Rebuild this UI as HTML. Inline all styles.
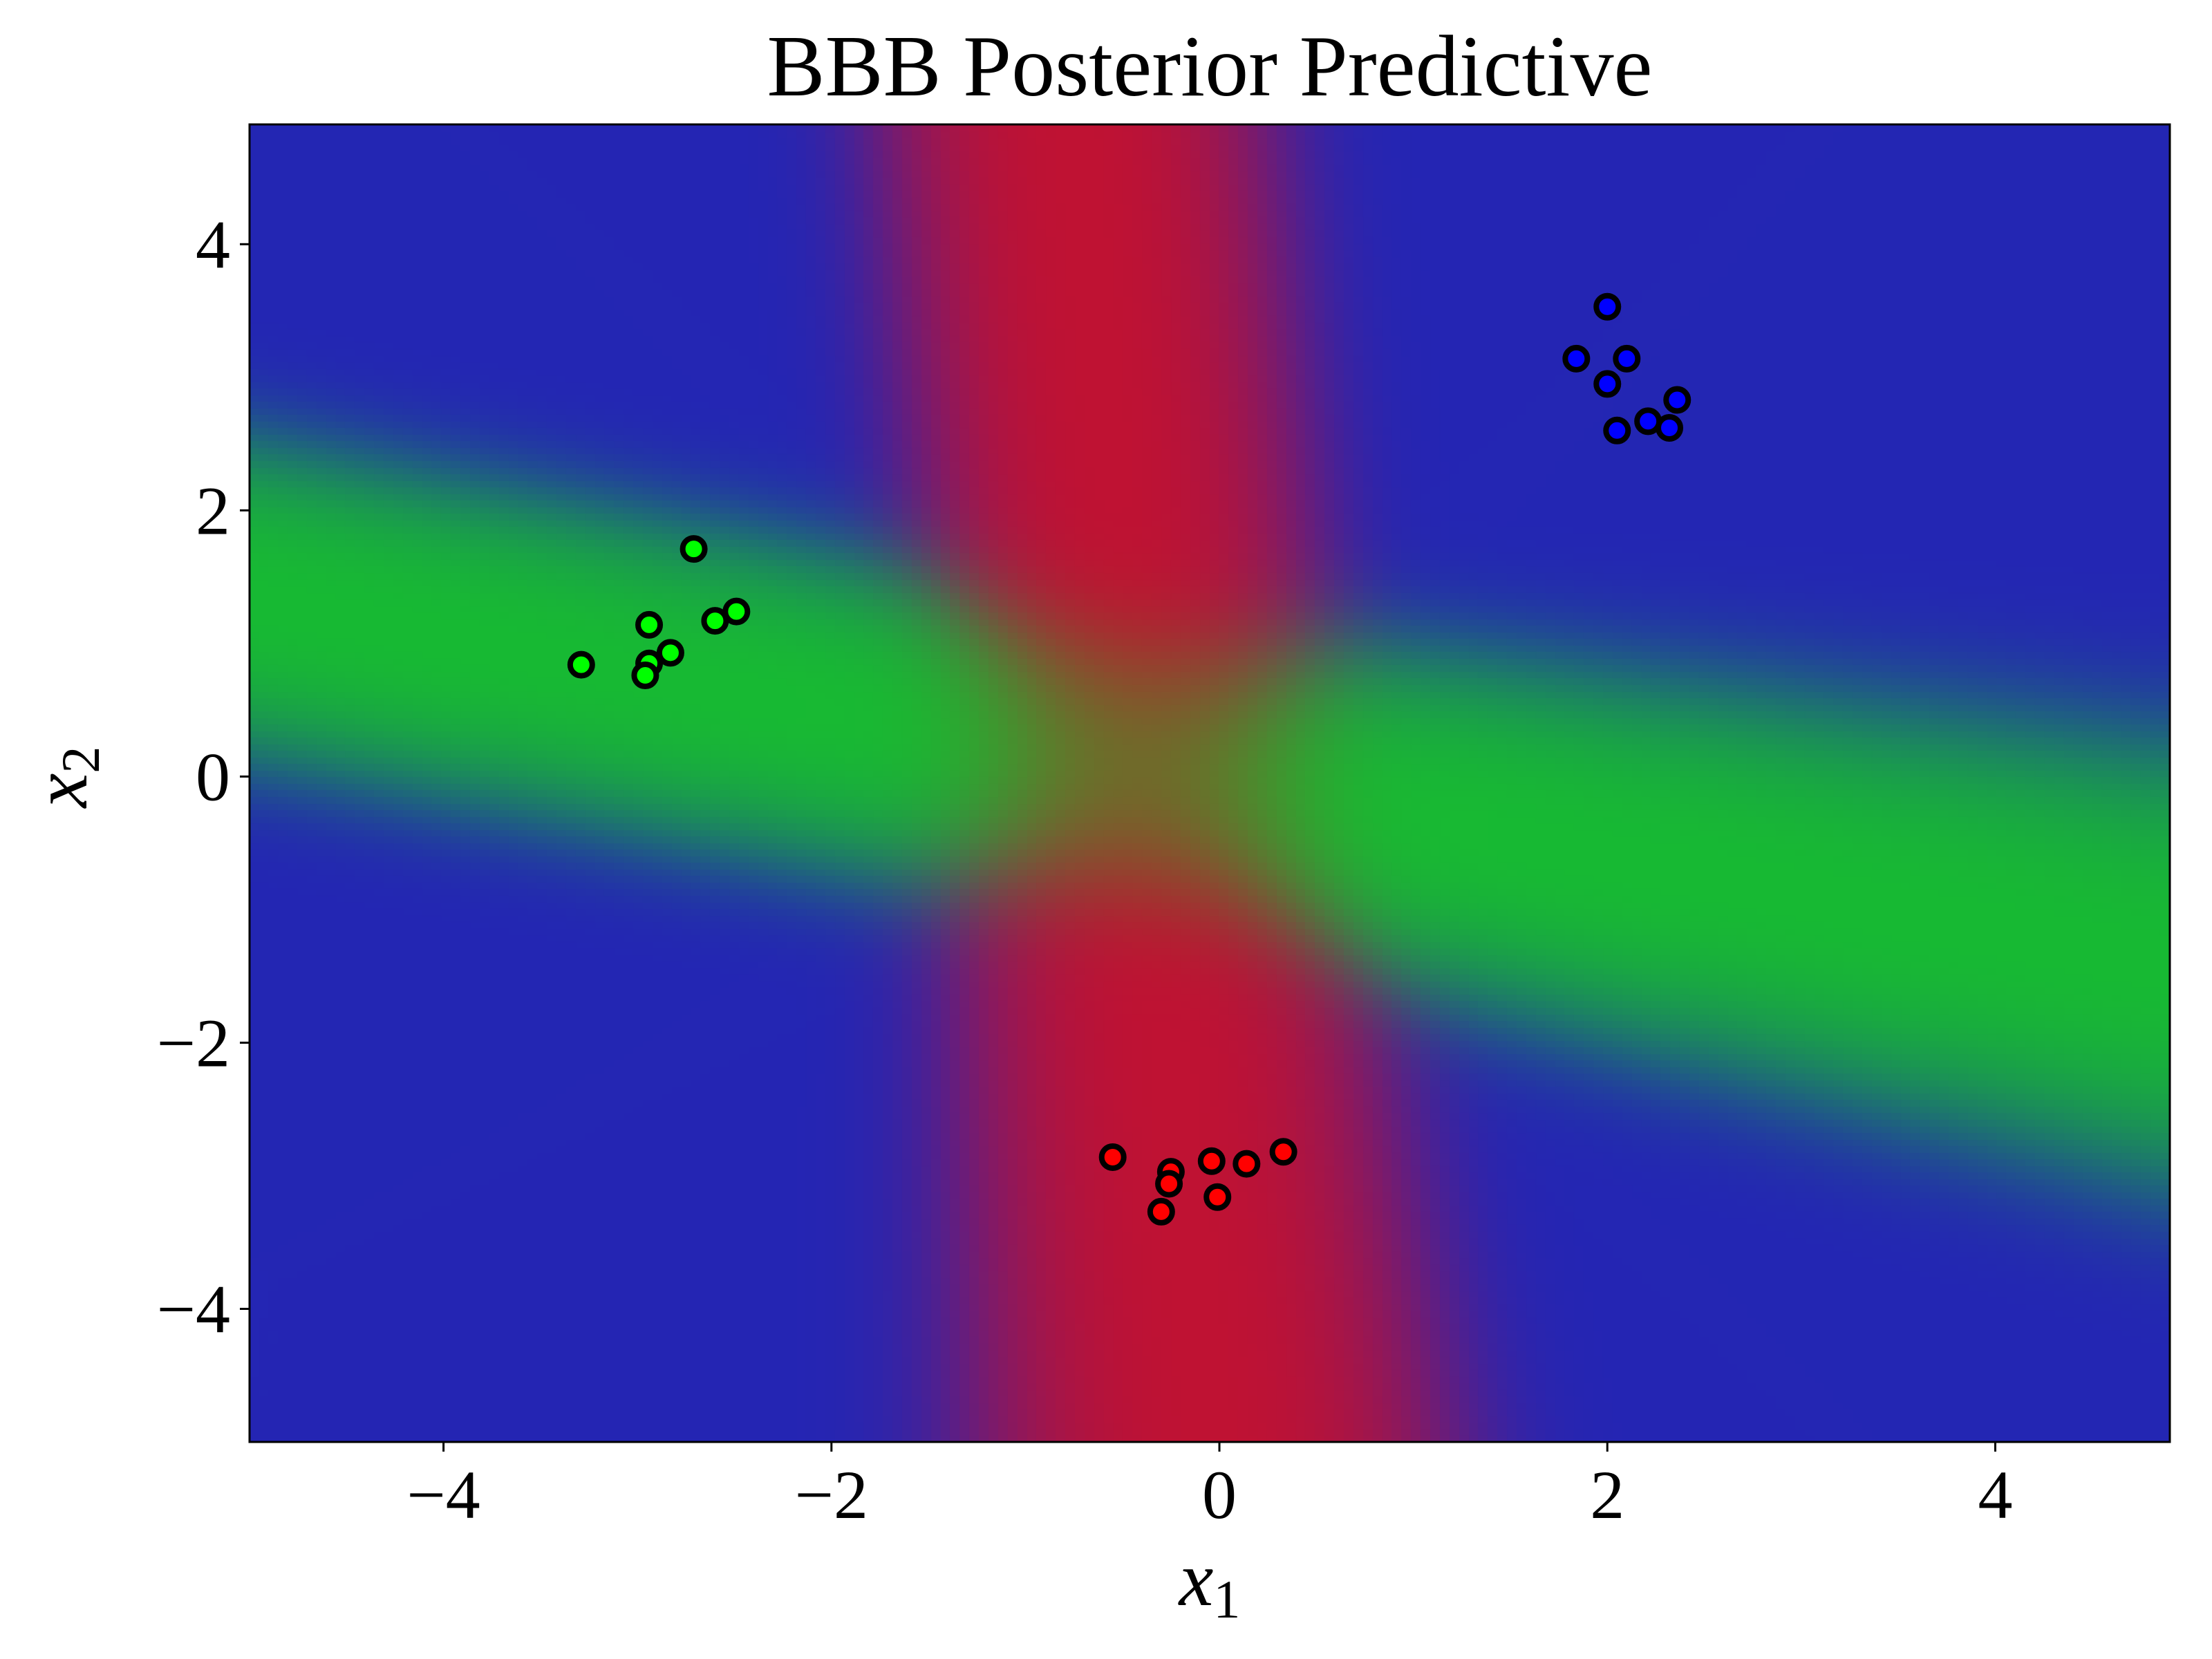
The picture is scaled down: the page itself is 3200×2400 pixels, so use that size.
<!DOCTYPE html>
<html><head><meta charset="utf-8">
<style>
html,body{margin:0;padding:0;background:#fff;}
#wrap{position:relative;width:3200px;height:2400px;overflow:hidden;background:#fff;}
#bg{position:absolute;left:361px;top:180px;width:2778px;height:1906px;}
svg{position:absolute;left:0;top:0;}
text{font-family:"Liberation Serif","DejaVu Serif",serif;fill:#000;}
</style></head>
<body>
<div id="wrap">
<canvas id="bg" width="2778" height="1906"></canvas>
<svg id="svg" width="3200" height="2400"></svg>
</div>
<script>
const xTicks=[-4,-2,0,2,4];
const yTicks=[-4,-2,0,2,4];
const xDomain=[-5,4.9];
const yDomain=[-5,4.9];
const greenX=[-3.29,-2.94,-2.71,-2.83,-2.94,-2.96,-2.60,-2.49];
const greenY=[0.84,1.14,1.71,0.93,0.85,0.76,1.17,1.24];
const blueX=[2.00,1.84,2.10,2.00,2.36,2.21,2.32,2.05];
const blueY=[3.53,3.14,3.14,2.95,2.83,2.67,2.62,2.60];
const redX=[-0.55,-0.25,-0.26,-0.04,0.14,0.33,-0.30,-0.01];
const redY=[-2.86,-2.97,-3.06,-2.89,-2.91,-2.82,-3.27,-3.16];

const L=361,R=3139,T=180,B=2086;
const sx=v=>L+(v-xDomain[0])/(xDomain[1]-xDomain[0])*(R-L);
const sy=v=>B-(v-yDomain[0])/(yDomain[1]-yDomain[0])*(B-T);

const cv=document.getElementById('bg'),ctx=cv.getContext('2d');
const N=200;
const cw=(R-L)/N,ch=(B-T)/N;
for(let i=0;i<N;i++){for(let j=0;j<N;j++){
  const x=xDomain[0]+(i+0.5)*(xDomain[1]-xDomain[0])/N;
  const y=yDomain[0]+(j+0.5)*(yDomain[1]-yDomain[0])/N;
  const cr=-0.4-0.07*y;
  const dx=(x-cr)/(0.65+0.03*Math.max(0,-y));
  const gy=-0.05-0.275*x;
  const dy=(y-gy)/(0.8+0.06*Math.max(0,x));
  const wR=Math.exp(-dx*dx);
  const wG=Math.exp(-dy*dy);
  const wB=0.15;
  const t=wR+wG+wB;
  const pr=wR/t,pg=wG/t,pb=wB/t;
  const r=pr*215+pg*22+pb*36, g=pr*15+pg*208+pb*38, b=pr*32+pg*32+pb*180;
  ctx.fillStyle=`rgb(${r|0},${g|0},${b|0})`;
  ctx.fillRect(Math.floor(i*cw),Math.floor((N-1-j)*ch),Math.ceil(cw)+1,Math.ceil(ch)+1);
}}

const svg=document.getElementById('svg');
const NS='http://www.w3.org/2000/svg';
function mk(tag,attrs,parent){const e=document.createElementNS(NS,tag);for(const k in attrs)e.setAttribute(k,attrs[k]);(parent||svg).appendChild(e);return e;}

function pts(xs,ys,fill,name){
  for(let i=0;i<xs.length;i++){
    const c=mk('circle',{cx:sx(xs[i]),cy:sy(ys[i]),r:16,fill:fill,stroke:'#000','stroke-width':8});
    
    
  }
}
pts(greenX,greenY,'#00ff00','green-point');
pts(blueX,blueY,'#0000ff','blue-point');
pts(redX,redY,'#ff0000','red-point');

const frame=mk('rect',{x:L,y:T,width:R-L,height:B-T,fill:'none',stroke:'#000','stroke-width':3});



xTicks.forEach(v=>{
  const tk=mk('line',{x1:sx(v),x2:sx(v),y1:B,y2:B+14,stroke:'#000','stroke-width':3});
  
  
  const t=mk('text',{x:sx(v),y:B+110,'text-anchor':'middle','font-size':100});
  t.textContent=(v<0?'\u2212':'')+Math.abs(v);
  
  
});
yTicks.forEach(v=>{
  const tk=mk('line',{x1:L-14,x2:L,y1:sy(v),y2:sy(v),stroke:'#000','stroke-width':3});
  
  
  const t=mk('text',{x:L-28,y:sy(v)+34,'text-anchor':'end','font-size':100});
  t.textContent=(v<0?'\u2212':'')+Math.abs(v);
  
  
});
</script>
<svg width="3200" height="2400" style="position:absolute;left:0;top:0">
<text x="1750" y="138" text-anchor="middle" font-size="126">BBB Posterior Predictive</text>
<text x="1750" y="2322" text-anchor="middle" font-size="112"><tspan font-style="italic">x</tspan><tspan font-size="78" dy="18">1</tspan></text>
<text transform="translate(125,1124) rotate(-90)" text-anchor="middle" font-size="112"><tspan font-style="italic">x</tspan><tspan font-size="78" dy="18">2</tspan></text>
</svg>
</body></html>
